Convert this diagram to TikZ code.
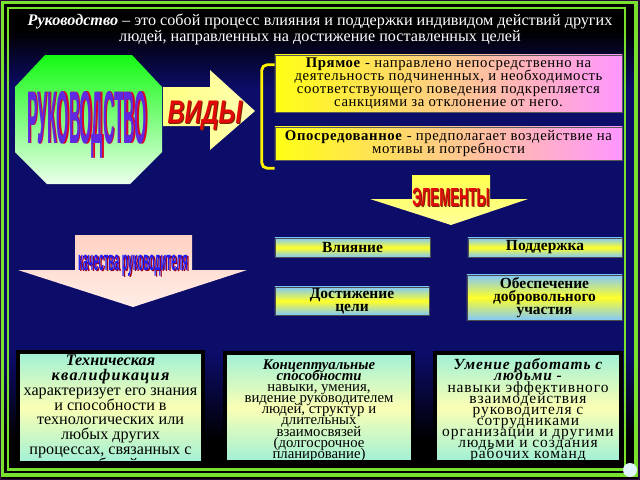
\documentclass[tikz,border=0pt]{standalone}
\usepackage{fontspec}
\setmainfont{Liberation Serif}
\newfontfamily\artfont{Liberation Sans}
\usepackage{graphicx}
\usetikzlibrary{positioning,calc}
\setlength{\lineskiplimit}{-20pt}
\definecolor{FrameGreen}{RGB}{120,225,45}
\definecolor{EdgePurple}{RGB}{40,10,60}
\definecolor{DeepNavy}{RGB}{12,12,105}
\definecolor{OctGreen}{RGB}{20,250,20}
\definecolor{OctPale}{RGB}{235,255,235}
\definecolor{KindYellow}{RGB}{255,255,20}
\definecolor{KindPink}{RGB}{255,150,255}
\definecolor{ElemBlue}{RGB}{130,200,250}
\definecolor{ElemYellow}{RGB}{255,255,40}
\definecolor{SkillMint}{RGB}{160,240,215}
\definecolor{SkillCream}{RGB}{250,255,180}
\definecolor{ArrowYellow}{RGB}{255,255,130}
\definecolor{ArrowPeach}{RGB}{255,210,195}
\definecolor{RukViolet}{RGB}{95,40,225}
\definecolor{WordRed}{RGB}{225,10,10}
\definecolor{ShadowRed}{RGB}{220,0,40}
\definecolor{ShadowDark}{RGB}{120,40,0}
\definecolor{QualBlue}{RGB}{30,30,250}
\pgfdeclareverticalshading{slidebg}{100bp}{color(0bp)=(black); color(29bp)=(black); color(38bp)=(DeepNavy); color(66bp)=(DeepNavy); color(72bp)=(black); color(100bp)=(black)}

\begin{document}
\begin{tikzpicture}[x=0.025cm, y=-0.025cm,
        % блоки видов руководства
        kindbox/.style={
            draw=gray!70!black,
            left color=KindYellow,
            right color=KindPink,
            text=black,
            align=center,
            inner sep=0pt,
            minimum width=8.675cm,
            font=\fontsize{10.5}{9.4}\selectfont\addfontfeature{LetterSpace=4}
        },
        % блоки элементов
        elembox/.style={
            draw=gray!60!black,
            top color=ElemBlue,
            bottom color=ElemBlue,
            middle color=ElemYellow,
            text=black,
            align=center,
            inner sep=0pt,
            font=\bfseries\fontsize{11}{9}\selectfont
        },
        % блоки качеств руководителя
        skillbox/.style={
            draw=black,
            line width=2.2pt,
            top color=SkillMint,
            bottom color=SkillMint,
            middle color=SkillCream,
            inner sep=0pt
        },
        skilltext/.style={
            anchor=north,
            align=center,
            text=black,
            inner sep=0pt
        },
        arttext/.style={anchor=base, inner sep=0pt}
    ]

        \useasboundingbox (0,0) rectangle (640,480);

        % --- 1. ФОН ---
        \fill[EdgePurple] (0,0) rectangle (640,480);
        \fill[shading=slidebg] (2,2) rectangle (638,478);

        % --- 2. ЗАГОЛОВОК ---
        \node[text=white, align=center, font=\fontsize{11.5}{11.3}\selectfont] (title) at (320,29)
            {{\bfseries\itshape Руководство} – это собой процесс влияния и поддержки индивидом действий других\\
             людей, направленных на достижение поставленных целей};

        % --- 3. ВОСЬМИУГОЛЬНИК И СТРЕЛКА "ВИДЫ" ---
        \shade[top color=OctGreen, bottom color=OctPale]
            (45,55) -- (132,55) -- (162,87) -- (162,152) -- (130,184) -- (47,184) -- (15,152) -- (15,87) -- cycle;
        \node[arttext, text=ShadowRed] (rukshadow) at (88.5,144) {\artfont\bfseries\resizebox{85pt}{37pt}{РУКОВОДСТВО}};
        \node[arttext, text=RukViolet] (rukword) at (87,143) {\artfont\bfseries\resizebox{85pt}{37pt}{РУКОВОДСТВО}};

        \shade[left color=ArrowYellow, right color=ArrowYellow!60!white]
            (163,87) -- (210,87) -- (210,70) -- (255,111) -- (210,150) -- (210,126) -- (163,126) -- cycle;
        \node[arttext, text=ShadowDark] (vidyshadow) at (206,124) {\artfont\bfseries\itshape\resizebox{53pt}{16pt}{ВИДЫ}};
        \node[arttext, text=WordRed] (vidyword) at (205,123) {\artfont\bfseries\itshape\resizebox{53pt}{16pt}{ВИДЫ}};

        % --- 4. ВИДЫ РУКОВОДСТВА ---
        \node[kindbox, minimum height=1.425cm] (direct) at (448.5,83.5)
            {\textbf{Прямое} - направлено непосредственно на\\
             деятельность подчиненных, и необходимость\\
             соответствующего поведения подкрепляется\\
             санкциями за отклонение от него.};
        \node[kindbox, minimum height=0.825cm] (indirect) at (448.5,143.5)
            {\textbf{Опосредованное} - предполагает воздействие на\\
             мотивы и потребности};

        \draw[yellow, line width=2pt, rounded corners=4pt]
            ($(direct.north west)+(0,10)$) -| ($(indirect.south west)+(-13,8)$) -- ($(indirect.south west)+(0,8)$);

        % --- 5. ЭЛЕМЕНТЫ ---
        \shade[top color=ArrowYellow!60!yellow, bottom color=ArrowYellow!80!white]
            (412,175) -- (490,175) -- (490,199) -- (528,199) -- (451,225) -- (370,199) -- (412,199) -- cycle;
        \node[arttext, text=ShadowDark] (elemshadow) at (452,207) {\artfont\bfseries\resizebox{55pt}{13pt}{ЭЛЕМЕНТЫ}};
        \node[arttext, text=WordRed] (elemword) at (451,206) {\artfont\bfseries\resizebox{55pt}{13pt}{ЭЛЕМЕНТЫ}};

        \node[elembox, minimum width=3.875cm, minimum height=0.475cm] (influence) at (352.5,247.5) {Влияние};
        \node[elembox, minimum width=3.85cm, minimum height=0.475cm] (support) at (545,247.5) {Поддержка};
        \node[elembox, minimum width=3.85cm, minimum height=0.7cm] (goal) at (352,301) {Достижение\\цели};
        \node[elembox, minimum width=3.875cm, minimum height=1.125cm] (voluntary) at (544.5,297.5)
            {Обеспечение\\добровольного\\участия};

        % --- 6. КАЧЕСТВА РУКОВОДИТЕЛЯ ---
        \shade[top color=ArrowPeach, bottom color=ArrowPeach!40!white]
            (75,235) -- (192,235) -- (192,270) -- (247,270) -- (133,307) -- (18,270) -- (75,270) -- cycle;
        \node[arttext, text=ShadowRed!70!black] (qualshadow) at (134.5,271.5) {\artfont\bfseries\resizebox{78pt}{11pt}{качества руководителя}};
        \node[arttext, text=QualBlue] (qualword) at (133,270) {\artfont\bfseries\resizebox{78pt}{11pt}{качества руководителя}};

        \node[skillbox, minimum width=4.625cm, minimum height=2.775cm] (technical) at (110.5,407.5) {};
        \node[skillbox, minimum width=4.7cm, minimum height=2.725cm] (conceptual) at (319,407.5) {};
        \node[skillbox, minimum width=4.65cm, minimum height=2.725cm] (people) at (528,407.5) {};

        \node[skilltext, font=\fontsize{11.5}{10.6}\selectfont] (technicaltext) at ($(technical.north)+(0,4)$)
            {{\bfseries\itshape Техническая}\\
             {\bfseries\itshape\addfontfeature{LetterSpace=8} квалификация}\\
             характеризует его знания\\
             и способности в\\
             технологических или\\
             любых других\\
             процессах, связанных с\\
             работой};
        \node[skilltext, font=\fontsize{10.5}{7.9}\selectfont] (conceptualtext) at ($(conceptual.north)+(0,8)$)
            {{\bfseries\itshape Концептуальные}\\
             {\bfseries\itshape способности}\\
             навыки,\ умения,\\
             видение руководителем\\
             людей, структур и\\
             длительных\\
             взаимосвязей\\
             (долгосрочное\\
             планирование)};
        \node[skilltext, font=\fontsize{11}{7.9}\selectfont\addfontfeature{LetterSpace=6}] (peopletext) at ($(people.north)+(0,7)$)
            {{\bfseries\itshape Умение работать с}\\
             {\bfseries\itshape людьми -}\\
             навыки эффективного\\
             взаимодействия\\
             руководителя с\\
             сотрудниками\\
             организации и другими\\
             людьми и создания\\
             рабочих команд};

        % --- 7. РАМКА ---
        \draw[FrameGreen, line width=2.2pt] (2.5,2.5) rectangle (636,475);
        \draw[FrameGreen, line width=1.8pt] (8,8) rectangle (625,469.5);
        \node[circle, fill=cyan!12, inner sep=0pt, minimum size=0.35cm] (logo) at (630,470) {};

    \end{tikzpicture}
\end{document}
